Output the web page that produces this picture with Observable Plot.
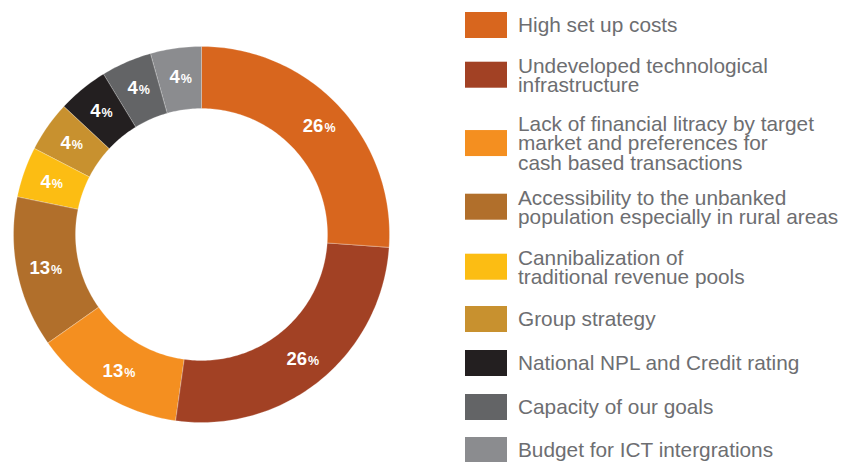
<!DOCTYPE html>
<html>
<head>
<meta charset="utf-8">
<script src="https://cdn.jsdelivr.net/npm/d3@7"></script>
<script src="https://cdn.jsdelivr.net/npm/@observablehq/plot@0.6"></script>
<style>
  html, body { margin: 0; padding: 0; background: #fff; }
  #wrap { position: relative; width: 852px; height: 462px; overflow: hidden; }
  #chart { position: absolute; left: 0; top: 0; }
  #legend { position: absolute; left: 465px; top: 0; width: 387px; height: 462px;
    font-family: "Liberation Sans", Arial, Helvetica, sans-serif; font-size: 20.8px;
    color: #6d6e71; line-height: 19.3px; }
  .item { position: absolute; left: 0; display: flex; align-items: center; transform: translateY(-50%); }
  .sw { width: 42px; height: 26px; margin-right: 11px; flex: none; }
  .lbl { white-space: pre; }
</style>
</head>
<body>
<div id="wrap">
  <div id="chart"></div>
  <div id="legend"></div>
</div>
<script>
// ---- data ----
const categories = [
  "High set up costs",
  "Undeveloped technological\ninfrastructure",
  "Lack of financial litracy by target\nmarket and preferences for\ncash based transactions",
  "Accessibility to the unbanked\npopulation especially in rural areas",
  "Cannibalization of\ntraditional revenue pools",
  "Group strategy",
  "National NPL and Credit rating",
  "Capacity of our goals",
  "Budget for ICT intergrations"
];
const shares = [26.1, 26.1, 13.0, 13.0, 4.35, 4.35, 4.35, 4.35, 4.35];
const pctLabels = ["26", "26", "13", "13", "4", "4", "4", "4", "4"];
const colors = ["#d8661e", "#a24124", "#f48f20", "#b16f2b", "#fcbd13", "#c8912f", "#231f20", "#636466", "#8b8c8f"];

// ---- layout ----
const innerR = 126 / 188;
const labelR = 0.85;
const legendCenterY = [25, 75, 143, 207, 267, 319, 363, 407, 450];

const total = d3.sum(shares);
let cum = 0;
const slices = categories.map((c, i) => {
  const a0 = cum / total * 2 * Math.PI;
  cum += shares[i];
  const a1 = cum / total * 2 * Math.PI;
  const n = Math.max(4, Math.ceil((a1 - a0) / (Math.PI / 180)));
  const ring = [];
  for (let k = 0; k <= n; k++) {
    const a = a0 + (a1 - a0) * k / n;
    ring.push([Math.sin(a), -Math.cos(a)]);
  }
  for (let k = n; k >= 0; k--) {
    const a = a0 + (a1 - a0) * k / n;
    ring.push([innerR * Math.sin(a), -innerR * Math.cos(a)]);
  }
  ring.push(ring[0]);
  const am = (a0 + a1) / 2;
  return {
    category: c,
    label: pctLabels[i],
    geom: {type: "Polygon", coordinates: [ring]},
    lx: labelR * Math.sin(am),
    ly: -labelR * Math.cos(am)
  };
});

const labelFont = "'Liberation Sans', Arial, sans-serif";
const chart = Plot.plot({
  width: 852,
  height: 462,
  marginLeft: 13,
  marginRight: 463,
  marginTop: 46,
  marginBottom: 40,
  projection: {type: "identity", domain: {type: "MultiPoint", coordinates: [[-1, -1], [1, 1]]}},
  color: {domain: categories, range: colors},
  marks: [
    Plot.geo(slices, {geometry: d => d.geom, fill: "category", stroke: "#fff", strokeWidth: 0.4, strokeOpacity: 0.6}),
    Plot.text(slices, {filter: d => d.label.length > 1, x: "lx", y: "ly", text: "label", fill: "#fff",
      fontSize: 18.5, fontWeight: "bold", fontFamily: labelFont, textAnchor: "end", lineAnchor: "bottom", dx: 5, dy: 6.5}),
    Plot.text(slices, {filter: d => d.label.length > 1, x: "lx", y: "ly", text: d => "%", fill: "#fff",
      fontSize: 12.5, fontWeight: "bold", fontFamily: labelFont, textAnchor: "start", lineAnchor: "bottom", dx: 6, dy: 6.5}),
    Plot.text(slices, {filter: d => d.label.length === 1, x: "lx", y: "ly", text: "label", fill: "#fff",
      fontSize: 18.5, fontWeight: "bold", fontFamily: labelFont, textAnchor: "end", lineAnchor: "bottom", dx: 0, dy: 6.5}),
    Plot.text(slices, {filter: d => d.label.length === 1, x: "lx", y: "ly", text: d => "%", fill: "#fff",
      fontSize: 12.5, fontWeight: "bold", fontFamily: labelFont, textAnchor: "start", lineAnchor: "bottom", dx: 1, dy: 6.5})
  ]
});
document.getElementById("chart").appendChild(chart);

// ---- legend ----
const legend = document.getElementById("legend");
categories.forEach((c, i) => {
  const item = document.createElement("div");
  item.className = "item";
  item.style.top = legendCenterY[i] + "px";
  const sw = document.createElement("div");
  sw.className = "sw";
  sw.style.background = colors[i];
  const lbl = document.createElement("div");
  lbl.className = "lbl";
  lbl.textContent = c;
  item.appendChild(sw);
  item.appendChild(lbl);
  legend.appendChild(item);
});
</script>
</body>
</html>
